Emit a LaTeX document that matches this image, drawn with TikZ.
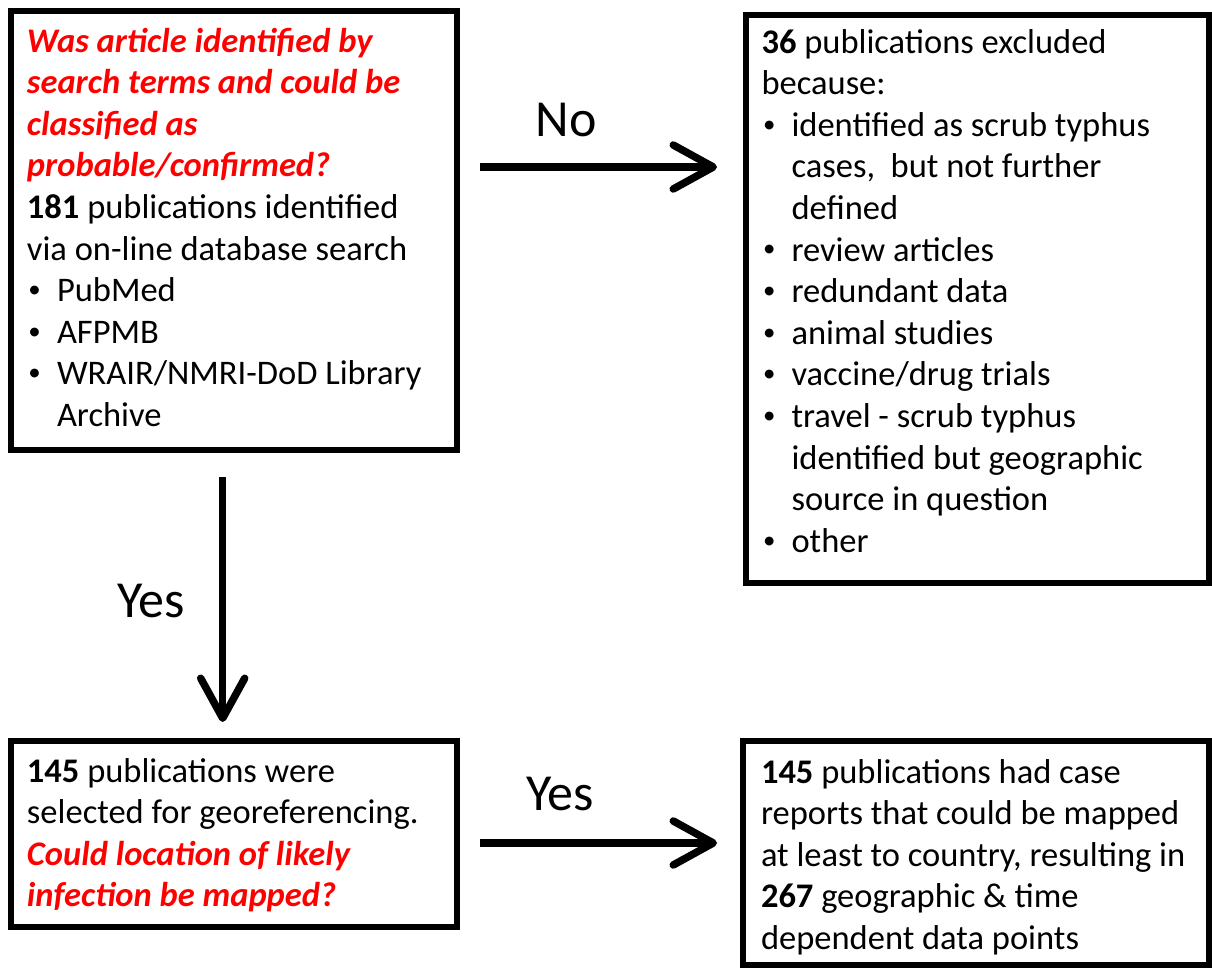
\documentclass[tikz,border=0pt]{standalone}
\usepackage{fontspec}
\setmainfont{Carlito}
\usetikzlibrary{arrows.meta}
\definecolor{qred}{RGB}{255,0,0}
\newcommand{\mybul}{\raisebox{0.12em}{\scalebox{0.72}{\textbullet}}}
\newcommand{\bitem}[1]{\par\noindent\hangindent=30pt\hangafter=1\makebox[30pt][l]{\hspace{1.5pt}\mybul}#1\par}
\newcommand{\qtext}[1]{\textcolor{qred}{\textbf{\textit{#1}}}}
\tikzset{
  box/.style={draw, line width=5.5pt, inner sep=0pt, outer sep=0pt, anchor=north west,
    font=\fontsize{34.5}{41.6}\selectfont},
  arr/.style={line width=7.5pt, -{Straight Barb[length=40pt, width=44pt, round]}},
  lbl/.style={font=\fontsize{52}{60}\selectfont, anchor=base, inner sep=0pt}
}
\begin{document}
\begin{tikzpicture}[x=1pt,y=-1pt]
\useasboundingbox (0,0) rectangle (1212,968);
% box 1
\node[box, inner xsep=16pt, inner ysep=11.9pt] (b1) at (11,11)
{\begin{minipage}[t][415.2pt][t]{414pt}\raggedright\hyphenpenalty=10000\strut
\qtext{Was article identified by\newline search terms and could be\newline classified as\newline probable/confirmed?}\newline
\textbf{181} publications identified\newline via on-line database search
\bitem{PubMed}
\bitem{AFPMB}
\bitem{WRAIR/NMRI-DoD Library\newline Archive}
\end{minipage}};
% box 2
\node[box, inner xsep=15.5pt, inner ysep=8.9pt] (b2) at (746,15)
{\begin{minipage}[t][550.2pt][t]{432pt}\raggedright\hyphenpenalty=10000\strut
\textbf{36} publications excluded\newline because:
\bitem{identified as scrub typhus\newline cases,\ \ but not further\newline defined}
\bitem{review articles}
\bitem{redundant data}
\bitem{animal studies}
\bitem{vaccine/drug trials}
\bitem{travel - scrub typhus\newline identified but geographic\newline source in question}
\bitem{other}
\end{minipage}};
% box 3
\node[box, inner xsep=16pt, inner ysep=11.9pt] (b3) at (11,741)
{\begin{minipage}[t][162.2pt][t]{414pt}\raggedright\hyphenpenalty=10000\strut
\textbf{145} publications were\newline selected for georeferencing.\newline
\qtext{Could location of likely\newline infection be mapped?}
\end{minipage}};
% box 4
\node[box, inner xsep=18pt, inner ysep=12.9pt] (b4) at (743,741)
{\begin{minipage}[t][198.2pt][t]{430pt}\raggedright\hyphenpenalty=10000\strut
\textbf{145} publications had case\newline reports that could be mapped\newline at least to country, resulting in\newline
\textbf{267} geographic \& time\newline dependent data points
\end{minipage}};
% arrows
\draw[arr, shorten <=23pt, shorten >=29pt] (b1.east |- 0,167) -- (b2.west |- 0,167);
\draw[arr, shorten <=27pt, shorten >=19pt] (b1.south -| 222.7,0) -- (b3.north -| 222.7,0);
\draw[arr, shorten <=23pt, shorten >=26pt] (b3.east |- 0,843) -- (b4.west |- 0,843);
% labels
\node[lbl] (lno) at (566,137) {No};
\node[lbl] (lyes1) at (151,617) {Yes};
\node[lbl] (lyes2) at (560,810) {Yes};
\end{tikzpicture}
\end{document}
